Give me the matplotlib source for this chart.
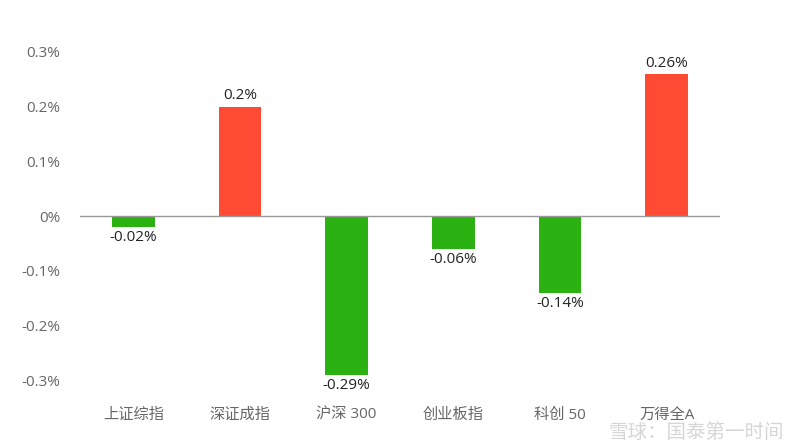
import matplotlib
matplotlib.use("Agg")
import matplotlib.pyplot as plt

plt.rcParams['font.family'] = ['Open Sans', 'Noto Sans CJK SC', 'DejaVu Sans']

categories = ["上证综指", "深证成指", "沪深 300", "创业板指", "科创 50", "万得全A"]
values = [-0.02, 0.2, -0.29, -0.06, -0.14, 0.26]
labels = ["-0.02%", "0.2%", "-0.29%", "-0.06%", "-0.14%", "0.26%"]
yticks = [-0.3, -0.2, -0.1, 0, 0.1, 0.2, 0.3]
ytick_labels = ["-0.3%", "-0.2%", "-0.1%", "0%", "0.1%", "0.2%", "0.3%"]

RED = "#ff4b33"
GREEN = "#2bb112"

fig = plt.figure(figsize=(8, 4.44), dpi=100)
ax = fig.add_axes([0.1, 0.144, 0.8, 0.739])

x = range(len(categories))
colors = [RED if v > 0 else GREEN for v in values]
ax.bar(x, values, width=0.4, color=colors, zorder=2)
ax.axhline(0, color="#999999", linewidth=1, zorder=3)

for i, (v, t) in enumerate(zip(values, labels)):
    if v > 0:
        ax.text(i, v + 0.006, t, ha="center", va="bottom", fontsize=11, color="#222222")
    else:
        ax.text(i, v - 0.006, t, ha="center", va="top", fontsize=11, color="#222222")

ax.set_xlim(-0.5, len(categories) - 0.5)
ax.set_ylim(-0.3, 0.3)
ax.set_yticks(yticks)
ax.set_yticklabels(ytick_labels, fontsize=11, color="#666666")
ax.set_xticks(list(x))
ax.set_xticklabels(categories, fontsize=11, color="#666666")
ax.tick_params(axis="both", length=0)
ax.tick_params(axis="x", pad=20)
ax.tick_params(axis="y", pad=14)
for s in ax.spines.values():
    s.set_visible(False)

# watermark in the lower right corner
fig.text(0.98, 0.005, "雪球：国泰第一时间", ha="right", va="bottom", fontsize=14,
         color="#bbbbbb", alpha=0.6)

fig.savefig("out.png", dpi=100)
